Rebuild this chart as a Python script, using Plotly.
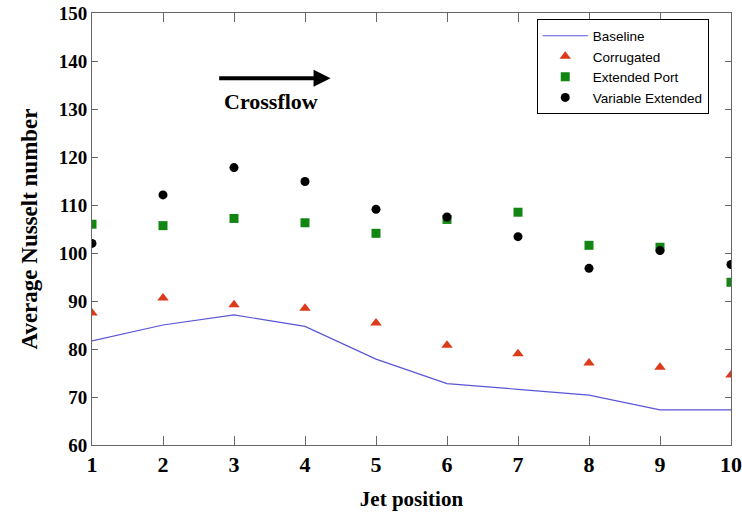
import plotly.graph_objects as go

jet = [1, 2, 3, 4, 5, 6, 7, 8, 9, 10]
baseline = [81.7, 85.0, 87.1, 84.7, 77.9, 72.8, 71.6, 70.4, 67.3, 67.3]
corrugated = [87.5, 90.6, 89.2, 88.5, 85.4, 80.8, 79.0, 77.1, 76.2, 74.6]
extended_port = [106.0, 105.7, 107.2, 106.3, 104.1, 107.0, 108.5, 101.6, 101.2, 93.9]
variable_extended = [102.0, 112.1, 117.8, 114.9, 109.1, 107.5, 103.4, 96.8, 100.5, 97.6]
y_ticks = [60, 70, 80, 90, 100, 110, 120, 130, 140, 150]

fig = go.Figure()
fig.add_trace(go.Scatter(x=jet, y=baseline, mode="lines", name="Baseline",
                         line=dict(color="#5a55d6", width=1.2)))
fig.add_trace(go.Scatter(x=jet, y=corrugated, mode="markers", name="Corrugated",
                         marker=dict(symbol="triangle-up", size=10, color="#dc3a1a")))
fig.add_trace(go.Scatter(x=jet, y=extended_port, mode="markers", name="Extended Port",
                         marker=dict(symbol="square", size=9, color="#128512")))
fig.add_trace(go.Scatter(x=jet, y=variable_extended, mode="markers", name="Variable Extended",
                         marker=dict(symbol="circle", size=9, color="black")))

fig.add_annotation(x=4.36, y=136.4, ax=2.77, ay=136.4, xref="x", yref="y",
                   axref="x", ayref="y", text="", showarrow=True,
                   arrowhead=2, arrowsize=0.85, arrowwidth=4, arrowcolor="black")
fig.add_annotation(x=3.52, y=131.6, xref="x", yref="y", text="<b>Crossflow</b>",
                   showarrow=False,
                   font=dict(family="Liberation Serif", size=22, color="black"))

fig.update_layout(
    width=742, height=513,
    margin=dict(l=92, r=11, t=13, b=68),
    paper_bgcolor="white", plot_bgcolor="white",
    showlegend=True,
    legend=dict(x=0.696, y=0.985, xanchor="left", yanchor="top",
                bordercolor="black", borderwidth=1, bgcolor="white",
                font=dict(family="Liberation Sans", size=13.5, color="black"),
                tracegroupgap=0, itemwidth=45),
)
fig.update_xaxes(range=[1, 10], tickvals=jet, ticktext=[str(v) for v in jet],
                 automargin=False,
                 showgrid=False, zeroline=False, showline=True, linecolor="#666666",
                 linewidth=1, mirror="ticks", ticks="inside", ticklen=9, tickcolor="#666666",
                 tickfont=dict(family="Liberation Serif", size=22, color="black", weight="bold"),
                 title=dict(text="<b>Jet position</b>", standoff=14,
                            font=dict(family="Liberation Serif", size=21, color="black")))
fig.update_yaxes(range=[60, 150], tickvals=y_ticks,
                 automargin=False,
                 showgrid=False, zeroline=False, showline=True, linecolor="#666666",
                 linewidth=1, mirror="ticks", ticks="inside", ticklen=6, tickcolor="#666666",
                 tickfont=dict(family="Liberation Serif", size=19, color="black", weight="bold"),
                 title=dict(text="<b>Average Nusselt number</b>", standoff=14,
                            font=dict(family="Liberation Serif", size=23, color="black")))

fig.write_html("out.html")
